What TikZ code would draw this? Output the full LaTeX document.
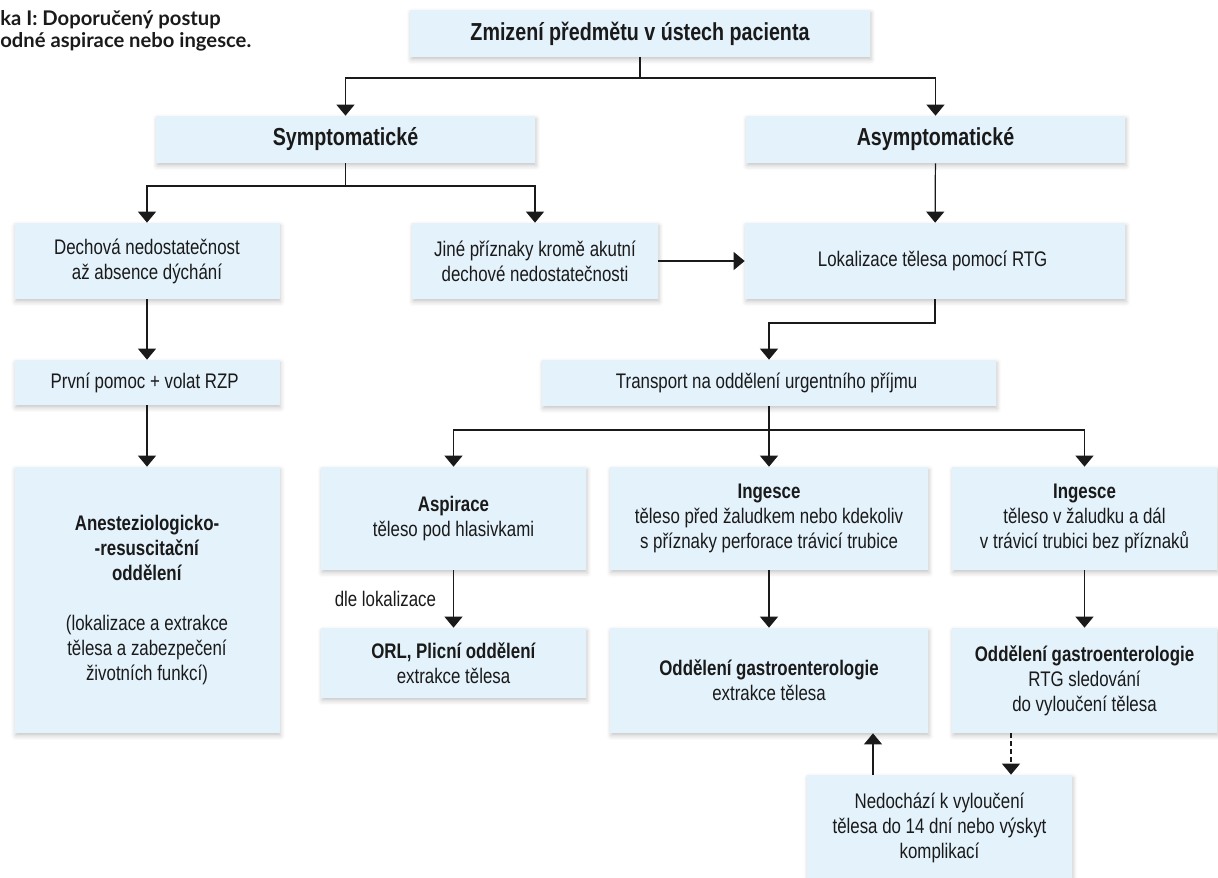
\documentclass[tikz,border=0pt]{standalone}
\usepackage{fontspec}
\setmainfont{Liberation Sans}[FakeStretch=0.8]
\newfontfamily\capfont{Lato}
\usetikzlibrary{arrows.meta,shadows.blur}
\definecolor{boxblue}{HTML}{E4F2FB}
\definecolor{ink}{HTML}{1A1A1A}

\begin{document}
\begin{tikzpicture}[
  font=\fontsize{12}{14.2}\selectfont,
  >={Triangle[width=0.36cm,length=0.22cm]},
  box/.style={
    rectangle, fill=boxblue, draw=none,
    align=center, inner sep=2pt, text=ink,
    blur shadow={shadow xshift=0.6pt, shadow yshift=-1.6pt,
      shadow blur radius=2.5pt, shadow opacity=22}
  },
  head/.style={
    box, font=\fontsize{14}{16}\selectfont\bfseries,
    minimum height=0.94cm
  },
  arr/.style={->, line width=0.7pt, ink},
  wire/.style={line width=0.7pt, ink},
  darr/.style={->, line width=0.7pt, ink, dash pattern=on 2.8pt off 1.7pt},
  lbl/.style={font=\fontsize{12}{14.2}\selectfont, ink}
]
\useasboundingbox (0,0) rectangle (24.36,-17.54);

%% ── Caption (cut at the left edge) ──────────────────────────────────
\node[anchor=north west, inner sep=0pt, align=left, text=ink,
  font=\capfont\bfseries\fontsize{11.5}{12.6}\selectfont] (caption) at (0,-0.2)
  {ka I: Doporučený postup\\odné aspirace nebo ingesce.};

%% ── Top ─────────────────────────────────────────────────────────────
\node[head, minimum width=9.20cm] (top) at (12.80,-0.67) {Zmizení předmětu v ústech pacienta};
\coordinate (split1) at (12.80,-1.56);

\node[head, minimum width=7.58cm] (sym)  at ( 6.91,-2.79) {Symptomatické};
\node[head, minimum width=7.58cm] (asym) at (18.71,-2.79) {Asymptomatické};

\draw[wire] (top) -- (split1);
\draw[arr] (split1) -| (sym.north);
\draw[arr] (split1) -| (asym.north);

%% ── Second row ──────────────────────────────────────────────────────
\coordinate (split2) at (6.91,-3.72);

\node[box, minimum width=5.30cm, minimum height=1.52cm] (dech) at (2.94,-5.22) {
  Dechová nedostatečnost\\
  až absence dýchání
};
\node[box, minimum width=4.92cm, minimum height=1.52cm] (jine) at (10.70,-5.22) {
  Jiné příznaky kromě akutní\\
  dechové nedostatečnosti
};
\node[box, minimum width=7.60cm, minimum height=1.52cm] (lok) at (18.70,-5.22) {
  Lokalizace tělesa pomocí RTG
};

\draw[wire] (sym) -- (split2);
\draw[arr] (split2) -| (dech.north);
\draw[arr] (split2) -| (jine.north);
\draw[arr] (asym) -- (lok);
\draw[arr] (jine) -- (lok);

%% ── Left column ─────────────────────────────────────────────────────
\node[box, minimum width=5.30cm, minimum height=0.90cm] (prvni) at (2.94,-7.65) {
  První pomoc + volat RZP
};
\node[box, minimum width=5.30cm, minimum height=5.32cm] (anest) at (2.94,-12.00) {
  \textbf{Anesteziologicko-}\\
  \textbf{-resuscitační}\\
  \textbf{oddělení}\\[14pt]
  (lokalizace a extrakce\\
  tělesa a zabezpečení\\
  životních funkcí)
};
\draw[arr] (dech) -- (prvni);
\draw[arr] (prvni) -- (anest);

%% ── Transport ───────────────────────────────────────────────────────
\coordinate (bend) at (18.70,-6.46);
\node[box, minimum width=9.08cm, minimum height=0.92cm] (transp) at (15.38,-7.66) {
  Transport na oddělení urgentního příjmu
};
\draw[arr] (lok.south) -- (bend) -| (transp.north);

%% ── Third row ───────────────────────────────────────────────────────
\coordinate (split4) at (15.38,-8.60);

\node[box, minimum width=5.30cm, minimum height=2.06cm] (asp) at (9.07,-10.37) {
  \textbf{Aspirace}\\
  těleso pod hlasivkami
};
\node[box, minimum width=6.36cm, minimum height=2.06cm] (ing1) at (15.38,-10.37) {
  \textbf{Ingesce}\\
  těleso před žaludkem nebo kdekoliv\\
  s příznaky perforace trávicí trubice
};
\node[box, minimum width=5.30cm, minimum height=2.06cm] (ing2) at (21.69,-10.37) {
  \textbf{Ingesce}\\
  těleso v žaludku a dál\\
  v trávicí trubici bez příznaků
};

\draw[wire] (transp) -- (split4);
\draw[arr] (split4) -| (asp.north);
\draw[arr] (split4) -- (ing1.north);
\draw[arr] (split4) -| (ing2.north);

%% ── Departments ─────────────────────────────────────────────────────
\node[box, minimum width=5.30cm, minimum height=1.40cm] (orl) at (9.07,-13.26) {
  \textbf{ORL, Plicní oddělení}\\
  extrakce tělesa
};
\node[box, minimum width=6.36cm, minimum height=2.10cm] (gas1) at (15.38,-13.61) {
  \textbf{Oddělení gastroenterologie}\\
  extrakce tělesa
};
\node[box, minimum width=5.30cm, minimum height=2.10cm] (gas2) at (21.69,-13.61) {
  \textbf{Oddělení gastroenterologie}\\
  RTG sledování\\
  do vyloučení tělesa
};

\draw[arr] (asp) -- node[lbl, left=0.22cm] {dle lokalizace} (orl);
\draw[arr] (ing1) -- (gas1);
\draw[arr] (ing2) -- (gas2);

%% ── Return loop ─────────────────────────────────────────────────────
\node[box, minimum width=5.30cm, minimum height=2.10cm] (nedo) at (18.79,-16.55) {
  Nedochází k vyloučení\\
  tělesa do 14 dní nebo výskyt\\
  komplikací
};
\draw[darr] ([xshift=-1.47cm]gas2.south) -- ([xshift=-1.47cm]gas2.south |- nedo.north);
\draw[arr] ([xshift=-1.33cm]nedo.north) -- ([xshift=-1.33cm]nedo.north |- gas1.south);

\end{tikzpicture}
\end{document}
